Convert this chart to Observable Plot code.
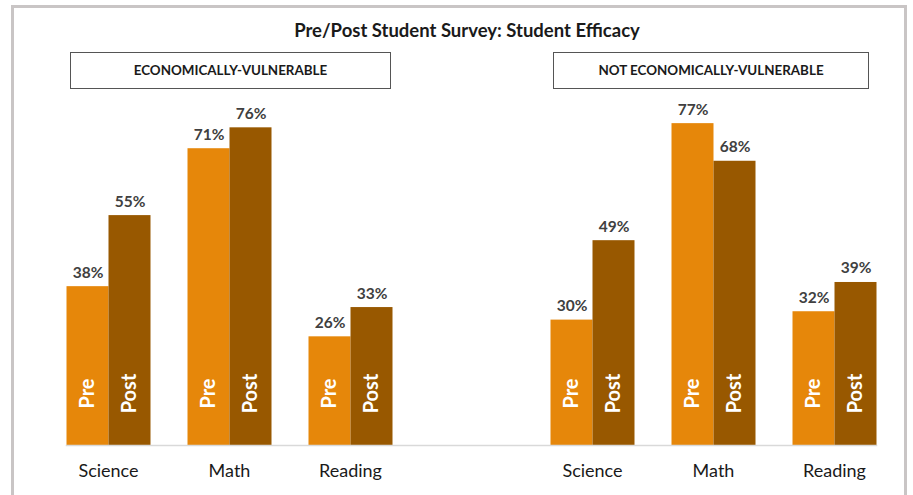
<!DOCTYPE html>
<html>
<head>
<meta charset="utf-8">
<script src="https://cdn.jsdelivr.net/npm/d3@7"></script>
<script src="https://cdn.jsdelivr.net/npm/@observablehq/plot@0.6"></script>
<style>
  html, body { margin: 0; padding: 0; background: #fff; overflow: hidden; }
  #wrap { position: relative; width: 913px; height: 495px; overflow: hidden; font-family: Lato, "Open Sans", sans-serif; }
  #frame { position: absolute; left: 11px; top: 5px; width: 896px; height: 600px; border: 3px solid #C9C5C5; box-sizing: border-box; border-bottom: none; }
  #title { position: absolute; left: 20px; width: 894px; top: 18px; text-align: center; font-weight: bold; font-size: 18.5px; line-height: 24px; color: #1a1a1a; }
  .box { position: absolute; top: 52px; height: 37px; box-sizing: border-box; border: 1px solid #555; background: #fff; text-align: center; font-weight: bold; font-size: 13.4px; line-height: 35px; color: #1a1a1a; }
  #chart { position: absolute; left: 0; top: 95px; }
</style>
</head>
<body>
<div id="wrap">
  <div id="frame"></div>
  <div id="title"></div>
  <div class="box" id="box0" style="left:70px;width:321px;"></div>
  <div class="box" id="box1" style="left:553px;width:316px;"></div>
  <div id="chart"></div>
</div>
<script>
const chartTitle = "Pre/Post Student Survey: Student Efficacy";
const groupTitles = ["ECONOMICALLY-VULNERABLE", "NOT ECONOMICALLY-VULNERABLE"];
const groups = ["EV", "NEV"];
const subjects = ["Science", "Math", "Reading"];
const phases = ["Pre", "Post"];
const evPre = [38, 71, 26];
const evPost = [55, 76, 33];
const nevPre = [30, 77, 32];
const nevPost = [49, 68, 39];
const colors = ["#E6870A", "#985800"];

document.getElementById("title").textContent = chartTitle;
document.getElementById("box0").textContent = groupTitles[0];
document.getElementById("box1").textContent = groupTitles[1];

// slots: 3 subjects per group, with an empty spacer slot between the groups
const slots = [
  ...subjects.map(s => "EV|" + s),
  "gap",
  ...subjects.map(s => "NEV|" + s)
];
const series = { EV: [evPre, evPost], NEV: [nevPre, nevPost] };
const rows = [];
for (const g of groups) {
  subjects.forEach((s, i) => {
    phases.forEach((p, j) => {
      rows.push({ slot: g + "|" + s, phase: p, value: series[g][j][i] });
    });
  });
}

const plot = Plot.plot({
  width: 913,
  height: 400,
  marginTop: 15.6,
  marginBottom: 50,
  marginLeft: 47.5,
  marginRight: 18.5,
  style: { fontFamily: "Lato, 'Open Sans', sans-serif", fontSize: "18px", color: "#1a1a1a", background: "transparent" },
  fx: {
    domain: slots,
    paddingInner: 0.306,
    paddingOuter: 0.153,
    label: null,
    axis: "bottom",
    tickSize: 0,
    tickPadding: 19,
    tickFormat: d => d === "gap" ? "" : d.split("|")[1]
  },
  x: { domain: phases, padding: 0, axis: null },
  y: { domain: [0, 80], axis: null },
  color: { domain: phases, range: colors },
  marks: [
    Plot.barY(rows, { fx: "slot", x: "phase", y: "value", fill: "phase" }),
    Plot.frame({ facet: "super", anchor: "bottom", stroke: "#D9D9D9", strokeWidth: 1.5 }),
    Plot.text(rows, {
      fx: "slot", x: "phase", y: "value",
      text: d => d.value + "%",
      lineAnchor: "bottom", dy: -9,
      fill: "#404040", fontWeight: "bold", fontSize: 15.5
    }),
    Plot.text(rows, {
      fx: "slot", x: "phase", y: 0,
      text: "phase",
      rotate: -90, dy: -52,
      textAnchor: "middle", lineAnchor: "middle",
      fill: "white", fontWeight: "bold", fontSize: 20
    })
  ]
});
document.getElementById("chart").appendChild(plot);
</script>
</body>
</html>
